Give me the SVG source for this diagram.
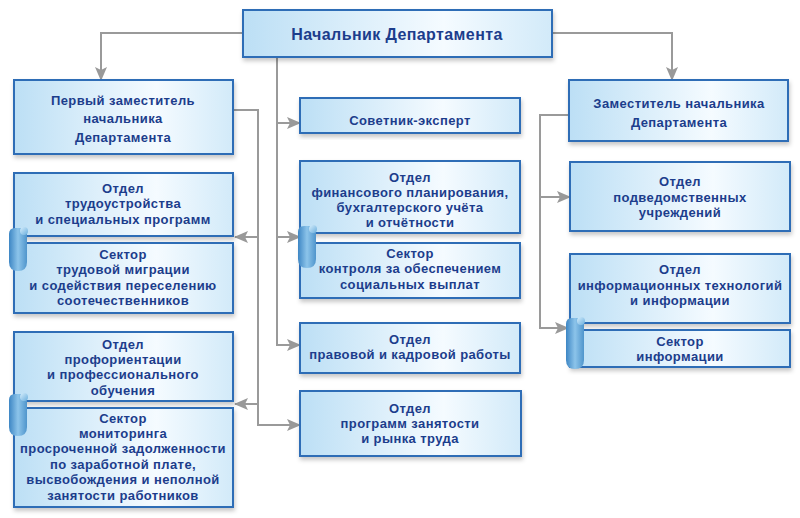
<svg xmlns="http://www.w3.org/2000/svg" width="800" height="518" viewBox="0 0 800 518">
<defs>
<linearGradient id="bg" x1="0" y1="0" x2="1" y2="0">
<stop offset="0" stop-color="#bcdff5"/>
<stop offset="0.65" stop-color="#f5fbff"/>
<stop offset="1" stop-color="#d2eaf9"/>
</linearGradient>
<linearGradient id="tab" x1="0" y1="0" x2="1" y2="0">
<stop offset="0" stop-color="#3d86c4"/>
<stop offset="0.5" stop-color="#8cc4ea"/>
<stop offset="1" stop-color="#4f95cc"/>
</linearGradient>
<linearGradient id="curl" x1="0" y1="0" x2="1" y2="1">
<stop offset="0" stop-color="#d6eefc"/>
<stop offset="1" stop-color="#6aaedd"/>
</linearGradient>
<filter id="sh" x="-5%" y="-10%" width="110%" height="130%">
<feDropShadow dx="1" dy="3" stdDeviation="2" flood-color="#000" flood-opacity="0.22"/>
</filter>
<marker id="ah" markerUnits="userSpaceOnUse" markerWidth="14" markerHeight="12" viewBox="0 0 14 12" refX="13" refY="6" orient="auto">
<path d="M0,0 L14,6 L0,12 L3,6 Z" fill="#999"/>
</marker>
</defs>
<style>
.box{fill:url(#bg);stroke:#2d6db6;stroke-width:2;filter:url(#sh)}
.t{font-family:"Liberation Sans",Arial,sans-serif;font-weight:bold;font-size:13px;fill:#1c3d8c;text-anchor:middle;letter-spacing:0.4px}
.tt{font-size:16px}
.c{fill:none;stroke:#9a9a9a;stroke-width:2}
.ca{fill:none;stroke:#9a9a9a;stroke-width:2;marker-end:url(#ah)}
.tabb{fill:url(#tab)}
.curl{fill:url(#curl)}
</style>
<rect width="800" height="518" fill="#fff"/>

<g id="connectors">
<path class="ca" d="M243,33 H101 V80"/>
<path class="ca" d="M552,33 H672 V80"/>
<path class="ca" d="M277,57 V345 H300"/>
<path class="ca" d="M277,123 H300"/>
<path class="ca" d="M277,237 H300"/>
<path class="ca" d="M233,110 H258 V425 H300"/>
<path class="ca" d="M258,237 H235"/>
<path class="ca" d="M258,404 H235"/>
<path class="ca" d="M569,115 H540 V328 H568"/>
<path class="ca" d="M540,197 H570"/>
</g>

<g id="head">
<rect class="box" x="243" y="10" width="309" height="47"/>
<text class="t tt" x="397" y="40">Начальник Департамента</text>
</g>

<g id="deputy1">
<rect class="box" x="14" y="80" width="219" height="74"/>
<text class="t" x="123" y="105">Первый заместитель</text>
<text class="t" x="123" y="123">начальника</text>
<text class="t" x="123" y="142">Департамента</text>
</g>

<g id="deputy2">
<rect class="box" x="569" y="80" width="219" height="61"/>
<text class="t" x="679" y="108">Заместитель начальника</text>
<text class="t" x="679" y="127">Департамента</text>
</g>

<g id="advisor">
<rect class="box" x="300" y="98" width="220" height="35"/>
<text class="t" x="410" y="125">Советник-эксперт</text>
</g>

<g id="fin">
<rect class="box" x="300" y="161" width="220" height="72"/>
<text class="t" x="410" y="182">Отдел</text>
<text class="t" x="410" y="197">финансового планирования,</text>
<text class="t" x="410" y="212">бухгалтерского учёта</text>
<text class="t" x="410" y="227">и отчётности</text>
</g>

<g id="control">
<rect class="box" x="300" y="243" width="220" height="55"/>
<text class="t" x="410" y="258">Сектор</text>
<text class="t" x="410" y="273">контроля за обеспечением</text>
<text class="t" x="410" y="289">социальных выплат</text>
</g>

<g id="legal">
<rect class="box" x="300" y="323" width="220" height="50"/>
<text class="t" x="410" y="344">Отдел</text>
<text class="t" x="410" y="359">правовой и кадровой работы</text>
</g>

<g id="programs">
<rect class="box" x="300" y="391" width="221" height="65"/>
<text class="t" x="410" y="413">Отдел</text>
<text class="t" x="410" y="428">программ занятости</text>
<text class="t" x="410" y="443">и рынка труда</text>
</g>

<g id="employment">
<rect class="box" x="14" y="173" width="219" height="63"/>
<text class="t" x="123" y="193">Отдел</text>
<text class="t" x="123" y="208">трудоустройства</text>
<text class="t" x="123" y="224">и специальных программ</text>
</g>

<g id="migration">
<rect class="box" x="14" y="243" width="219" height="70"/>
<text class="t" x="123" y="259">Сектор</text>
<text class="t" x="123" y="274">трудовой миграции</text>
<text class="t" x="123" y="290">и содействия переселению</text>
<text class="t" x="123" y="305">соотечественников</text>
</g>

<g id="career">
<rect class="box" x="14" y="332" width="219" height="69"/>
<text class="t" x="123" y="349">Отдел</text>
<text class="t" x="123" y="364">профориентации</text>
<text class="t" x="123" y="379">и профессионального</text>
<text class="t" x="123" y="395">обучения</text>
</g>

<g id="monitoring">
<rect class="box" x="14" y="408" width="219" height="99"/>
<text class="t" x="123" y="423">Сектор</text>
<text class="t" x="123" y="438">мониторинга</text>
<text class="t" x="123" y="453">просроченной задолженности</text>
<text class="t" x="123" y="469">по заработной плате,</text>
<text class="t" x="123" y="484">высвобождения и неполной</text>
<text class="t" x="123" y="500">занятости работников</text>
</g>

<g id="subordinate">
<rect class="box" x="570" y="162" width="220" height="69"/>
<text class="t" x="680" y="186">Отдел</text>
<text class="t" x="680" y="202">подведомственных</text>
<text class="t" x="680" y="217">учреждений</text>
</g>

<g id="it">
<rect class="box" x="570" y="254" width="220" height="69"/>
<text class="t" x="680" y="274">Отдел</text>
<text class="t" x="680" y="290">информационных технологий</text>
<text class="t" x="680" y="305">и информации</text>
</g>

<g id="info">
<rect class="box" x="570" y="330" width="220" height="37"/>
<text class="t" x="680" y="346">Сектор</text>
<text class="t" x="680" y="361">информации</text>
</g>

<g id="tabs">
<path class="tabb" d="M9,234 Q9,228 15,228 H27 V262 Q27,271 18,271 Q9,271 9,262 Z"/>
<ellipse class="curl" cx="24" cy="231" rx="4" ry="4"/>
<path class="tabb" d="M298,232 Q298,226 304,226 H316 V259 Q316,268 307,268 Q298,268 298,259 Z"/>
<ellipse class="curl" cx="313" cy="229" rx="4" ry="4"/>
<path class="tabb" d="M566,324 Q566,318 572,318 H584 V360 Q584,369 575,369 Q566,369 566,360 Z"/>
<ellipse class="curl" cx="581" cy="321" rx="4" ry="4"/>
<path class="tabb" d="M9,400 Q9,394 15,394 H27 V427 Q27,436 18,436 Q9,436 9,427 Z"/>
<ellipse class="curl" cx="24" cy="397" rx="4" ry="4"/>
</g>
</svg>
